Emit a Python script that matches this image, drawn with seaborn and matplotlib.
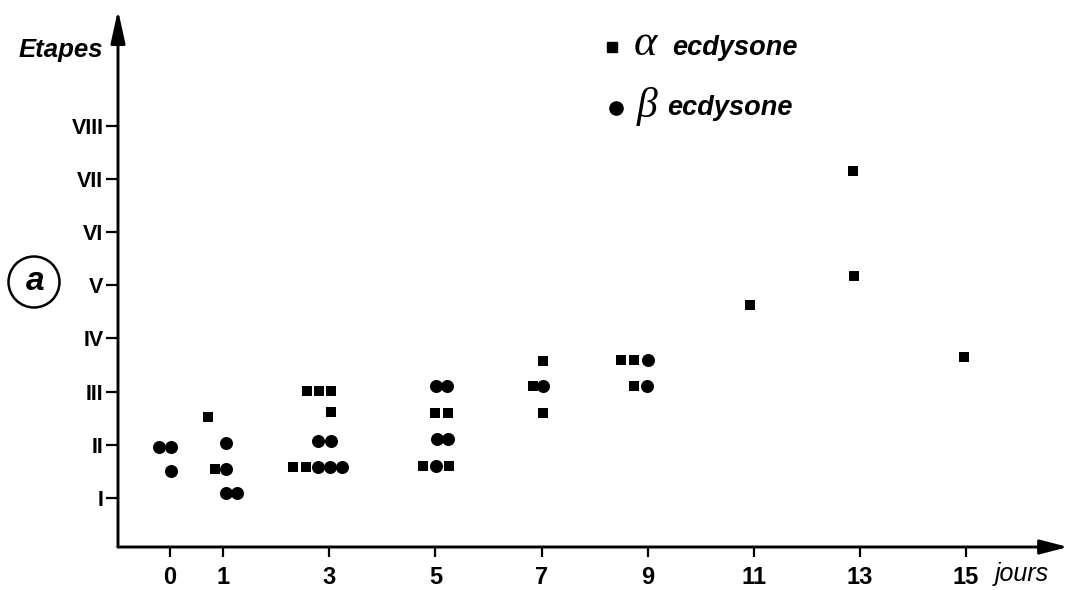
import matplotlib
matplotlib.use("Agg")
import matplotlib.pyplot as plt
from matplotlib.patches import Ellipse
import seaborn as sns
import pandas as pd

# Stades de développement en fonction du temps (jours) après traitement
alpha_jour = [0.72, 0.85, 2.58, 2.81, 3.03, 3.03, 2.32, 2.56,
              7.03, 8.50, 8.74, 6.84, 8.74, 4.99, 5.24, 7.03, 4.77, 5.26,
              12.87, 12.89, 10.93, 14.96]
alpha_etape = [2.52, 1.54, 3.01, 3.01, 3.01, 2.62, 1.58, 1.58,
               3.58, 3.59, 3.59, 3.10, 3.10, 2.60, 2.60, 2.60, 1.60, 1.60,
               7.15, 5.17, 4.63, 3.65]

beta_jour = [-0.21, 0.02, 0.02, 1.06, 1.06, 1.06, 1.26, 2.79, 3.03, 2.79, 3.01, 3.24,
             9.01, 5.01, 5.22, 7.03, 8.99, 5.03, 5.24, 5.01]
beta_etape = [1.96, 1.96, 1.51, 2.03, 1.54, 1.09, 1.09, 2.07, 2.07, 1.58, 1.58, 1.58,
              3.59, 3.10, 3.10, 3.10, 3.10, 2.11, 2.11, 1.60]

jours_ticks = [0, 1, 3, 5, 7, 9, 11, 13, 15]
etapes_ticks = [1, 2, 3, 4, 5, 6, 7, 8]
etapes_labels = ["I", "II", "III", "IV", "V", "VI", "VII", "VIII"]

df_alpha = pd.DataFrame({"jour": alpha_jour, "etape": alpha_etape})
df_beta = pd.DataFrame({"jour": beta_jour, "etape": beta_etape})

sns.set_style("white")
plt.rcParams["font.family"] = ["Liberation Sans", "DejaVu Sans"]
for key in ["text.color", "axes.labelcolor", "xtick.color", "ytick.color",
            "xtick.labelcolor", "ytick.labelcolor"]:
    plt.rcParams[key] = "black"

W, H = 1069, 590
fig = plt.figure(figsize=(W / 100, H / 100), dpi=100)
ax = fig.add_axes([118 / W, 43 / H, 950 / W, 537 / H])

sns.scatterplot(data=df_alpha, x="jour", y="etape", marker="s", s=62,
                color="black", linewidth=0, ax=ax, legend=False)
sns.scatterplot(data=df_beta, x="jour", y="etape", marker="o", s=88,
                color="black", linewidth=0, ax=ax, legend=False)

ax.set_xlim(-0.98, 16.92)
ax.set_ylim(0.075, 10.18)

for side in ["top", "right", "left", "bottom"]:
    ax.spines[side].set_visible(False)

# axes with arrow heads
ax.annotate("", xy=(0, 1), xytext=(0, 0), xycoords="axes fraction",
            arrowprops=dict(arrowstyle="-|>,head_length=1.0,head_width=0.22",
                            mutation_scale=20, lw=2.1, color="black",
                            shrinkA=0, shrinkB=0))
ax.annotate("", xy=(1, 0), xytext=(0, 0), xycoords="axes fraction",
            arrowprops=dict(arrowstyle="-|>,head_length=0.85,head_width=0.22",
                            mutation_scale=20, lw=2.1, color="black",
                            shrinkA=0, shrinkB=0))

ax.set_xticks(jours_ticks)
ax.set_xticklabels([str(j) for j in jours_ticks], fontweight="bold", fontsize=17)
ax.set_yticks(etapes_ticks)
ax.set_yticklabels(etapes_labels, fontweight="bold", fontsize=15.5)
ax.tick_params(axis="x", direction="out", length=7, width=1.6, pad=7,
               bottom=True, color="black")
ax.tick_params(axis="y", direction="out", length=8.5, width=1.6, pad=2,
               left=True, color="black")
ax.set_xlabel("")
ax.set_ylabel("")
ax.grid(False)

# axis titles
fig.text(103 / W, 1 - 57 / H, "Etapes", ha="right", va="baseline",
         fontsize=18.5, fontweight="bold", fontstyle="italic")
fig.text(995 / W, 1 - 581 / H, "jours", ha="left", va="baseline",
         fontsize=18, fontstyle="italic")

# panel tag
fig.patches.append(Ellipse((34 / W, 1 - 282 / H), 51 / W, 51 / H,
                           transform=fig.transFigure, fill=False,
                           edgecolor="black", lw=1.8))
fig.text(35 / W, 1 - 290 / H, "a", ha="center", va="baseline",
         fontsize=24, fontweight="bold", fontstyle="italic")

# key
ax.plot([0.5205], [0.931], marker="s", markersize=6.5, color="black",
        linestyle="none", transform=ax.transAxes, clip_on=False)
ax.plot([0.5237], [0.8175], marker="o", markersize=9.5, color="black",
        linestyle="none", transform=ax.transAxes, clip_on=False)
ax.text(0.5425, 0.917, "\u03b1", transform=ax.transAxes, ha="left", va="baseline",
        fontsize=32, fontstyle="italic", family=["Liberation Serif", "DejaVu Serif"])
ax.text(0.5455, 0.800, "\u03b2", transform=ax.transAxes, ha="left", va="baseline",
        fontsize=30, fontstyle="italic", family=["Liberation Serif", "DejaVu Serif"])
ax.text(0.5836, 0.916, "ecdysone", transform=ax.transAxes, ha="left", va="baseline",
        fontsize=19.5, fontweight="bold", fontstyle="italic")
ax.text(0.5783, 0.8045, "ecdysone", transform=ax.transAxes, ha="left", va="baseline",
        fontsize=19.5, fontweight="bold", fontstyle="italic")

fig.savefig("out.png", dpi=100, facecolor="white")
